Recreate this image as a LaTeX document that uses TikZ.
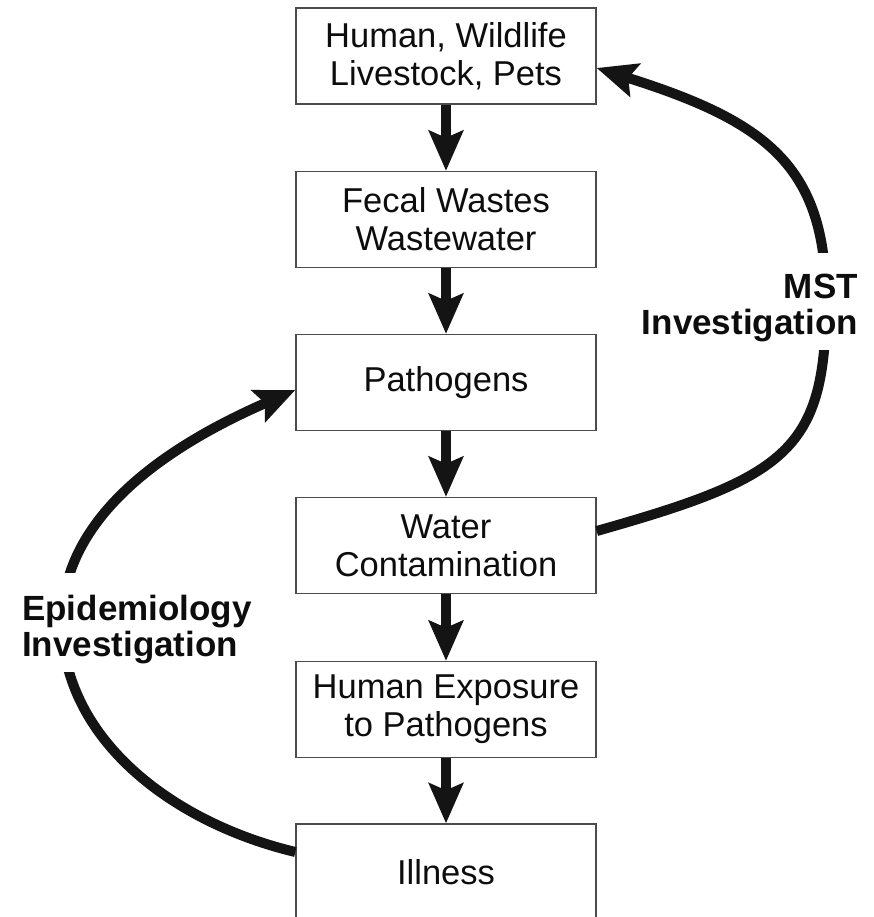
\documentclass[tikz,border=0pt]{standalone}
\usepackage{fontspec}
\setmainfont{Liberation Sans}
\usetikzlibrary{arrows.meta}
\begin{document}
\begin{tikzpicture}[x=1pt,y=-1pt,
  box/.style={draw=black!70, line width=1.3pt, minimum width=300pt, minimum height=96pt,
    inner sep=0pt, align=center, font=\fontsize{34.5}{38}\selectfont, text=black!95},
  flow/.style={line width=10pt, draw=black!92,
    -{Stealth[length=40pt,width=34pt,inset=7pt]}},
  lbl/.style={font=\bfseries\fontsize{35}{36}\selectfont, inner sep=0pt, text=black!95}]
\clip (0,0) rectangle (873,917);
\fill[white] (0,0) rectangle (873,917);

\node[box] (b1) at (446,56) {Human, Wildlife\\Livestock, Pets};
\node[box] (b2) at (446,219.5) {Fecal Wastes\\Wastewater};
\node[box] (b3) at (446,382.5) {Pathogens};
\node[box] (b4) at (446,545.5) {Water\\Contamination};
\node[box] (b5) at (446,709.5) {Human Exposure\\to Pathogens};
\node[box] (b6) at (446,872) {Illness};

\draw[flow] (b1.south) -- (b2.north);
\draw[flow] (b2.south) -- (b3.north);
\draw[flow] (b3.south) -- (b4.north);
\draw[flow] (b4.south) -- (b5.north);
\draw[flow] (b5.south) -- (b6.north);

\coordinate (mstmid) at (826,300);
\coordinate (epimid) at (62,622);
\draw[flow] ([yshift=14.5pt]b4.east) .. controls (788,477) and (826,450) .. (mstmid)
  .. controls (826,165) and (765,121) .. ([yshift=-12pt]b1.east);
\draw[flow] ([yshift=20pt]b6.west) .. controls (170,822) and (62,737) .. (epimid)
  .. controls (62,512) and (176,442) .. ([yshift=-7.5pt]b3.west);

\fill[white] (790,253) rectangle (872,350);
\fill[white] (30,573) rectangle (100,672);

\node[lbl, anchor=north east, align=right] (mst) at (858,274) {MST\\Investigation};
\node[lbl, anchor=north west, align=left] (epi) at (22,595) {Epidemiology\\Investigation};
\end{tikzpicture}
\end{document}
